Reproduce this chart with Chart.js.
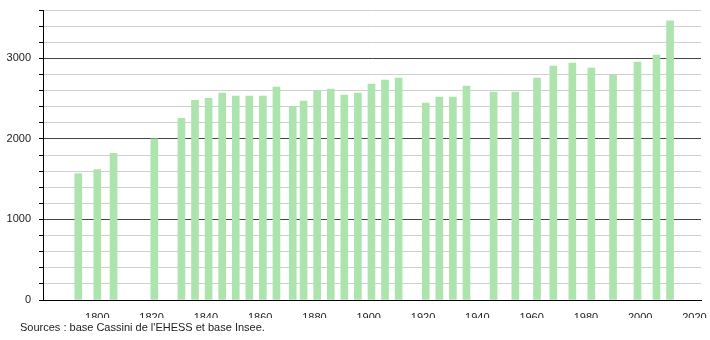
<!DOCTYPE html>
<html>
<head>
<meta charset="utf-8">
<script src="https://cdn.jsdelivr.net/npm/chart.js@4"></script>
<style>
  body { margin: 0; background: #fff; }
  #wrap { position: relative; width: 710px; height: 340px; }
  #source { position: absolute; left: 20px; top: 321px; font: 11px "Liberation Sans", Arial, sans-serif; color: #222; }
</style>
</head>
<body>
<div id="wrap">
  <canvas id="popChart" width="710" height="340"></canvas>
  <div id="source">Sources : base Cassini de l'EHESS et base Insee.</div>
</div>
<script>
const years = [1793, 1800, 1806, 1821, 1831, 1836, 1841, 1846, 1851, 1856, 1861, 1866,
  1872, 1876, 1881, 1886, 1891, 1896, 1901, 1906, 1911, 1921, 1926, 1931, 1936,
  1946, 1954, 1962, 1968, 1975, 1982, 1990, 1999, 2006, 2011];
const population = [1570, 1620, 1820, 2000, 2255, 2480, 2505, 2568, 2530, 2530, 2530, 2642,
  2402, 2468, 2600, 2617, 2543, 2568, 2680, 2730, 2755, 2443, 2518, 2518, 2655,
  2580, 2580, 2755, 2904, 2942, 2879, 2792, 2954, 3041, 3465];
const yearTicks = [1800, 1820, 1840, 1860, 1880, 1900, 1920, 1940, 1960, 1980, 2000, 2020];
const popTicks = [0, 1000, 2000, 3000];

const font = { family: "'Liberation Sans', Arial, sans-serif", size: 11 };

new Chart(document.getElementById("popChart").getContext("2d"), {
  type: "bar",
  data: {
    datasets: [{
      data: years.map((y, i) => ({ x: y, y: population[i] })),
      backgroundColor: "#ade4ad",
      barThickness: 7
    }]
  },
  options: {
    responsive: false,
    animation: false,
    layout: { padding: { top: 10, right: 9, bottom: 22, left: 0 } },
    plugins: { legend: { display: false }, tooltip: { enabled: false } },
    scales: {
      x: {
        type: "linear",
        offset: false,
        min: 1780,
        max: 2022.4,
        afterFit: s => { s.height = 18; },
        afterBuildTicks: s => { s.ticks = yearTicks.map(v => ({ value: v })); },
        grid: { display: false },
        border: { color: "#000" },
        ticks: { font, color: "#222", padding: 3, maxRotation: 0, autoSkip: false,
          callback: v => String(v) }
      },
      y: {
        min: 0,
        max: 3600,
        afterFit: s => { s.width = 43; s.paddingTop = 0; s.paddingBottom = 0; },
        grid: {
          color: c => c.tick.value === 0 ? "#000" : (c.tick.value % 1000 === 0 ? "#444" : "#cfcfcf"),
          tickColor: "#000",
          tickLength: 4
        },
        border: { color: "#000" },
        ticks: {
          stepSize: 200,
          font, color: "#222", padding: 8, autoSkip: false,
          callback: v => popTicks.includes(v) ? String(v) : ""
        }
      }
    }
  }
});
</script>
</body>
</html>
